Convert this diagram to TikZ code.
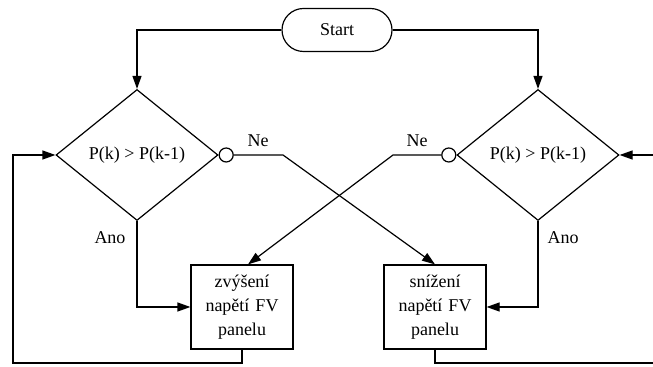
\documentclass[tikz,border=0pt]{standalone}
\usepackage{fontspec}
\setmainfont{Liberation Serif}
\usetikzlibrary{shapes.geometric, shapes.misc, arrows.meta, positioning, calc}

\begin{document}
\begin{tikzpicture}[
  x=0.5pt, y=-0.5pt,
  line width=0.6pt,
  font=\fontsize{9}{11.85}\selectfont,
  term/.style = {draw, rounded rectangle, minimum width=55pt, minimum height=21.5pt, inner sep=0pt},
  decision/.style = {draw, diamond, minimum width=81pt, minimum height=65.5pt, inner sep=0pt},
  box/.style = {draw, rectangle, minimum width=51pt, minimum height=42pt, text width=48pt, align=center, inner sep=0pt},
  port/.style = {draw, circle, fill=white, minimum size=7pt, inner sep=0pt},
  line/.style = {draw, -{Triangle[length=6.5pt, width=4.5pt]}},
  wire/.style = {draw}
  ]
 \useasboundingbox (0,0) rectangle (653,367);
 % Start
 \node[term] (start) at (337,30) {Start};
 % Decisions
 \node[decision] (decL) at (137,155) {P(k) > P(k-1)};
 \node[decision] (decR) at (538,155) {P(k) > P(k-1)};
 \node[port, right=0pt of decL] (portL) {};
 \node[port, left=0pt of decR] (portR) {};
 % Actions
 \node[box] (up) at (242,307) {zvýšení\\ napětí FV\\ panelu};
 \node[box] (down) at (435,307) {snížení\\ napětí FV\\ panelu};
 % Labels
 \node (neL) at (258,141) {Ne};
 \node (neR) at (417,141) {Ne};
 \node (anoL) at (110,238) {Ano};
 \node (anoR) at (563,238) {Ano};
 % Helper points
 \coordinate (kinkL) at (283,155);
 \coordinate (kinkR) at (393,155);
 \coordinate (loopL) at (13,363);
 \coordinate (loopR) at (653,363);
 \coordinate (inR) at (653,155);
 % Arrows
 \draw[line] (start.west) -| (decL.north);
 \draw[line] (start.east) -| (decR.north);
 \draw[line] (decL.south) |- (up.west);
 \draw[line] (decR.south) |- (down.east);
 \draw[line] (portL.east) -- (kinkL) -- (down.north);
 \draw[line] (portR.west) -- (kinkR) -- ([xshift=3pt]up.north);
 \draw[line] (up.south) |- (loopL) |- (decL.west);
 \draw[wire] (down.south) |- (loopR);
 \draw[line] (inR) -- (decR.east);
\end{tikzpicture}
\end{document}
